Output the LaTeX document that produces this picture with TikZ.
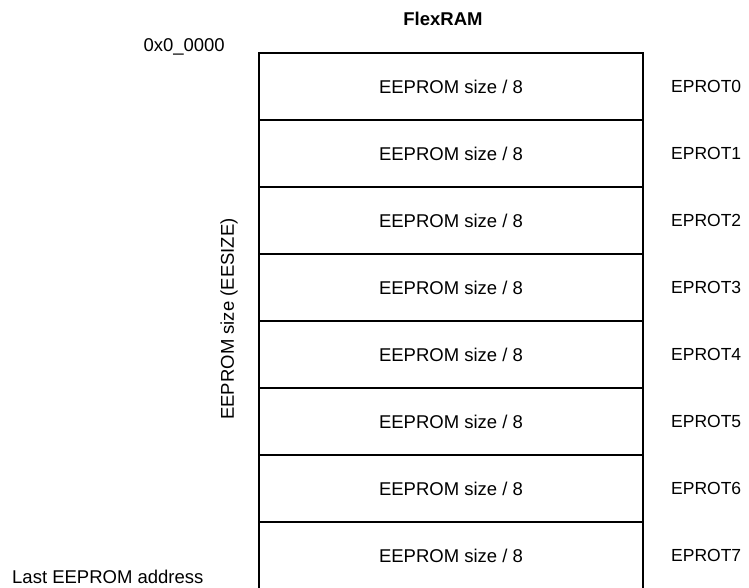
\documentclass[tikz,border=0pt]{standalone}
\usepackage{fontspec}
\setmainfont{Liberation Sans}
\usetikzlibrary{positioning}
\begin{document}
\begin{tikzpicture}[
    x=1pt, y=-1pt,
    every node/.style={font=\fontsize{18.5}{22}\selectfont},
    blok/.style={draw, line width=1.5pt, minimum width=384pt, minimum height=67pt,
                 inner sep=0pt, outer sep=0pt},
    eticheta/.style={anchor=west, inner sep=0pt, font=\fontsize{17.5}{21}\selectfont}
]
\useasboundingbox (0,0) rectangle (749,588);
% blocurile FlexRAM
\node[blok] (r0) at (451,86.5) {EEPROM size / 8};
\foreach \i [count=\j from 0] in {1,...,7}
  \node[blok, below=0pt of r\j] (r\i) {EEPROM size / 8};
\foreach \i in {0,...,7}
  \node[eticheta, right=28pt of r\i.east] (p\i) {EPROT\i};
% etichete
\node[font=\fontsize{18.5}{22}\selectfont\bfseries] (titlu) at (443,19) {FlexRAM};
\node[anchor=east, inner sep=0pt] (adr0) at (225,47) {0x0\_0000};
\node[anchor=west, inner sep=0pt] (adrN) at (12,577) {Last EEPROM address};
\node[rotate=90, inner sep=0pt] (marime) at (229,319) {EEPROM size (EESIZE)};
\end{tikzpicture}
\end{document}
